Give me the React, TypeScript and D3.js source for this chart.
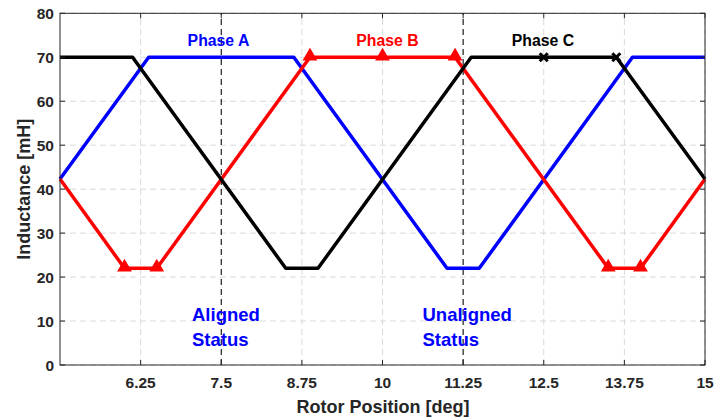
import React from "react";
import * as d3 from "d3";

const W = 716;
const H = 418;

const xTicks = [6.25, 7.5, 8.75, 10, 11.25, 12.5, 13.75, 15];
const yTicks = [0, 10, 20, 30, 40, 50, 60, 70, 80];

const phaseAX = [5, 6.375, 8.625, 11.0, 11.5, 13.875, 15];
const phaseAY = [42.3, 70, 70, 22, 22, 70, 70];

const phaseBX = [5, 6.0, 6.5, 8.875, 10, 11.125, 13.5, 14.0, 15];
const phaseBY = [42.3, 22, 22, 70, 70, 70, 22, 22, 42.3];
const phaseBMarkerIdx = [1, 2, 3, 4, 5, 6, 7];

const phaseCX = [5, 6.125, 8.5, 9.0, 11.375, 12.5, 13.625, 15];
const phaseCY = [70, 70, 22, 22, 70, 70, 70, 42.3];
const phaseCMarkerIdx = [5, 6];

const statusLines = [7.5, 11.25];

const phaseLabels = [
  { text: "Phase A", x: 218.5, color: "#0000ff" },
  { text: "Phase B", x: 387.5, color: "#ff0000" },
  { text: "Phase C", x: 543, color: "#000000" },
];

const statusLabels = [
  { lines: ["Aligned", "Status"], x: 192 },
  { lines: ["Unaligned", "Status"], x: 422.5 },
];

const FONT = "'Liberation Sans', Arial, Helvetica, sans-serif";

export default function App() {
  const x = d3.scaleLinear().domain([5, 15]).range([60, 705]);
  const y = d3.scaleLinear().domain([0, 80]).range([365, 13.3]);

  const line = d3
    .line<[number, number]>()
    .x((d) => x(d[0]))
    .y((d) => y(d[1]));

  const pts = (xs: number[], ys: number[]) =>
    xs.map((v, i) => [v, ys[i]] as [number, number]);

  const axisColor = "#262626";
  const gridColor = "#d9d9d9";
  const tickLen = 5;

  const triangle = d3.symbol().type(d3.symbolTriangle).size(70)();

  return (
    <svg
      width={W}
      height={H}
      style={{ position: "absolute", left: 0, top: 0, background: "#fff" }}
      fontFamily={FONT}
    >
      <rect x={0} y={0} width={W} height={H} fill="#fff" />
      {xTicks.map((t) => (
        <line
          key={"gx" + t}
          x1={x(t)}
          x2={x(t)}
          y1={y(0)}
          y2={y(80)}
          stroke={gridColor}
          strokeWidth={1}
          strokeDasharray="6,4"
        />
      ))}
      {yTicks.map((t) => (
        <line
          key={"gy" + t}
          x1={x(5)}
          x2={x(15)}
          y1={y(t)}
          y2={y(t)}
          stroke={gridColor}
          strokeWidth={1}
          strokeDasharray="6,4"
        />
      ))}
      {statusLines.map((t) => (
        <line
          key={"sl" + t}
          x1={x(t)}
          x2={x(t)}
          y1={y(0)}
          y2={y(80)}
          stroke="#000"
          strokeWidth={1}
          strokeDasharray="6,4"
        />
      ))}
      <path d={line(pts(phaseAX, phaseAY)) || ""} fill="none" stroke="#0000ff" strokeWidth={3.5} strokeLinejoin="round" />
      <path d={line(pts(phaseBX, phaseBY)) || ""} fill="none" stroke="#ff0000" strokeWidth={3.5} strokeLinejoin="round" />
      <path d={line(pts(phaseCX, phaseCY)) || ""} fill="none" stroke="#000000" strokeWidth={3.5} strokeLinejoin="round" />
      {phaseBMarkerIdx.map((i) => (
        <path
          key={"mb" + i}
          d={triangle || ""}
          transform={`translate(${x(phaseBX[i])},${y(phaseBY[i]) - 1})`}
          fill="#ff0000"
          stroke="#ff0000"
          strokeWidth={1.2}
        />
      ))}
      {phaseCMarkerIdx.map((i) => {
        const cx = x(phaseCX[i]);
        const cy = y(phaseCY[i]);
        const s = 4;
        return (
          <g key={"mc" + i} stroke="#000" strokeWidth={3}>
            <line x1={cx - s} y1={cy - s} x2={cx + s} y2={cy + s} />
            <line x1={cx - s} y1={cy + s} x2={cx + s} y2={cy - s} />
          </g>
        );
      })}
      <rect
        x={x(5)}
        y={y(80)}
        width={x(15) - x(5)}
        height={y(0) - y(80)}
        fill="none"
        stroke={axisColor}
        strokeWidth={1}
      />
      {xTicks.map((t) => (
        <g key={"xt" + t}>
          <line x1={x(t)} x2={x(t)} y1={y(0)} y2={y(0) - tickLen} stroke={axisColor} />
          <line x1={x(t)} x2={x(t)} y1={y(80)} y2={y(80) + tickLen} stroke={axisColor} />
          <text
            x={x(t)}
            y={388}
            textAnchor="middle"
            fontSize={15.5}
            fontWeight="bold"
            fill={axisColor}
          >
            {String(t)}
          </text>
        </g>
      ))}
      {yTicks.map((t) => (
        <g key={"yt" + t}>
          <line x1={x(5)} x2={x(5) + tickLen} y1={y(t)} y2={y(t)} stroke={axisColor} />
          <line x1={x(15)} x2={x(15) - tickLen} y1={y(t)} y2={y(t)} stroke={axisColor} />
          <text
            x={54}
            y={y(t) + 5.5}
            textAnchor="end"
            fontSize={15.5}
            fontWeight="bold"
            fill={axisColor}
          >
            {String(t)}
          </text>
        </g>
      ))}
      <text
        x={383}
        y={413}
        textAnchor="middle"
        fontSize={18}
        fontWeight="bold"
        fill={axisColor}
      >
        Rotor Position [deg]
      </text>
      <text
        transform={`translate(30,${y(40) + 0}) rotate(-90)`}
        textAnchor="middle"
        fontSize={18}
        fontWeight="bold"
        fill={axisColor}
      >
        Inductance [mH]
      </text>
      {phaseLabels.map((p) => (
        <text
          key={p.text}
          x={p.x}
          y={45.5}
          textAnchor="middle"
          fontSize={15.8}
          fontWeight="bold"
          fill={p.color}
        >
          {p.text}
        </text>
      ))}
      {statusLabels.map((s) => (
        <text
          key={s.lines[0]}
          x={s.x}
          y={320.5}
          fontSize={18.5}
          fontWeight="bold"
          fill="#0000ff"
        >
          {s.lines.map((l, i) => (
            <tspan key={i} x={s.x} dy={i === 0 ? 0 : 25.5}>
              {l}
            </tspan>
          ))}
        </text>
      ))}
    </svg>
  );
}
